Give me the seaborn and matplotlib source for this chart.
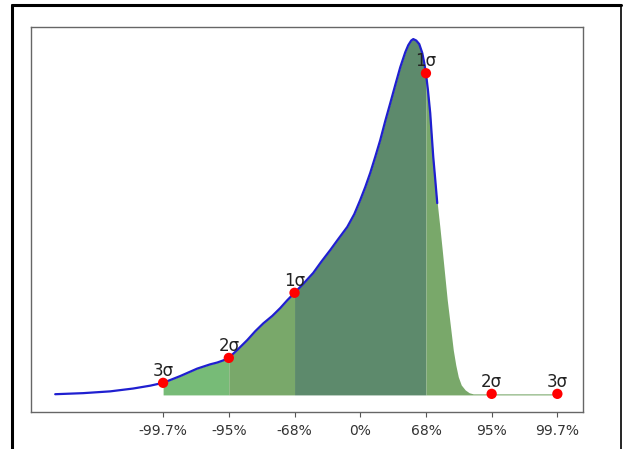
import numpy as np
import pandas as pd
import matplotlib
matplotlib.use("Agg")
import matplotlib.pyplot as plt
from matplotlib.lines import Line2D
import seaborn as sns

# ---- data ----
curve_x = [-4.642, -4.216, -3.805, -3.455, -3.196, -3.0, -2.740, -2.481, -2.283, -2.177,
           -2.085, -2.0, -1.857, -1.720, -1.598, -1.476, -1.339, -1.218, -1.111, -1.0,
           -0.868, -0.715, -0.594, -0.457, -0.335, -0.198, -0.091, 0.0, 0.076, 0.152,
           0.228, 0.304, 0.381, 0.457, 0.533, 0.609, 0.685, 0.731, 0.776, 0.807, 0.852,
           0.898, 0.944, 0.974, 1.0, 1.030, 1.065, 1.088, 1.111, 1.142, 1.172]
curve_y = [0.002, 0.005, 0.010, 0.018, 0.026, 0.034, 0.053, 0.074, 0.086, 0.091,
           0.097, 0.104, 0.129, 0.154, 0.179, 0.201, 0.222, 0.244, 0.266, 0.287,
           0.312, 0.343, 0.374, 0.407, 0.438, 0.472, 0.508, 0.548, 0.584, 0.624,
           0.669, 0.716, 0.770, 0.820, 0.871, 0.921, 0.963, 0.983, 0.996, 1.0, 0.996,
           0.986, 0.961, 0.933, 0.904, 0.857, 0.792, 0.730, 0.669, 0.604, 0.539]
tail_x = [1.210, 1.248, 1.286, 1.324, 1.370, 1.416, 1.454, 1.492, 1.537, 1.598, 1.659,
          1.720, 2.0, 3.0]
tail_y = [0.475, 0.407, 0.337, 0.267, 0.197, 0.126, 0.084, 0.051, 0.028, 0.014, 0.006,
          0.003, 0.003, 0.003]

sigma_x = [-3, -2, -1, 1, 2, 3]
sigma_y = [0.034, 0.104, 0.287, 0.904, 0.003, 0.003]
sigma_labels = ["3σ", "2σ", "1σ", "1σ", "2σ", "3σ"]

tick_pos = [-3, -2, -1, 0, 1, 2, 3]
tick_labels = ["-99.7%", "-95%", "-68%", "0%", "68%", "95%", "99.7%"]

zone_edges = [(-3, -2), (-2, -1), (-1, 1), (1, 3)]
zone_colors = ["#77bb77", "#79a86a", "#5d8a6c", "#79a86a"]

# ---- plot ----
sns.set_style("white")
plt.rcParams['font.family'] = ['DejaVu Sans']

fig = plt.figure(figsize=(6.23, 4.49), dpi=100)
ax = fig.add_axes([0.0498, 0.0824, 0.886, 0.8575])

fx = np.array(curve_x + tail_x)
fy = np.array(curve_y + tail_y)
for (a, b), c in zip(zone_edges, zone_colors):
    m = (fx >= a) & (fx <= b)
    ax.fill_between(fx, 0, fy, where=m, color=c, linewidth=0)

line_df = pd.DataFrame({"x": curve_x, "y": curve_y})
sns.lineplot(data=line_df, x="x", y="y", sort=False, estimator=None,
             color="#1f1fd0", linewidth=1.6, ax=ax)

pts = pd.DataFrame({"x": sigma_x, "y": sigma_y})
sns.scatterplot(data=pts, x="x", y="y", color="red", s=55, edgecolor="none",
                zorder=5, ax=ax)
for x, y, t in zip(sigma_x, sigma_y, sigma_labels):
    ax.annotate(t, (x, y), xytext=(0, 5), textcoords="offset points",
                ha="center", va="baseline", fontsize=12, color="#222222", zorder=6)

ax.set_xlim(-5.01, 3.39)
ax.set_ylim(-0.048, 1.034)
ax.set_xticks(tick_pos)
ax.set_xticklabels(tick_labels, fontsize=10, color="#333333")
ax.set_yticks([])
ax.set_xlabel("")
ax.set_ylabel("")
ax.tick_params(axis="x", bottom=True, length=3.5, width=0.8, color="#555555", pad=5)
for s in ax.spines.values():
    s.set_color("#666666")
    s.set_linewidth(1.0)
    s.set_visible(True)

# outer screenshot frame
W, H = 623, 449
fig.add_artist(Line2D([12 / W, 621 / W], [1 - 5 / H, 1 - 5 / H], color="black", lw=2.2,
                      transform=fig.transFigure))
fig.add_artist(Line2D([12 / W, 12 / W], [0, 1 - 5 / H], color="black", lw=2.2,
                      transform=fig.transFigure))
fig.add_artist(Line2D([621 / W, 621 / W], [0, 1 - 5 / H], color="black", lw=1.2,
                      transform=fig.transFigure))

fig.savefig("out.png", dpi=100)
